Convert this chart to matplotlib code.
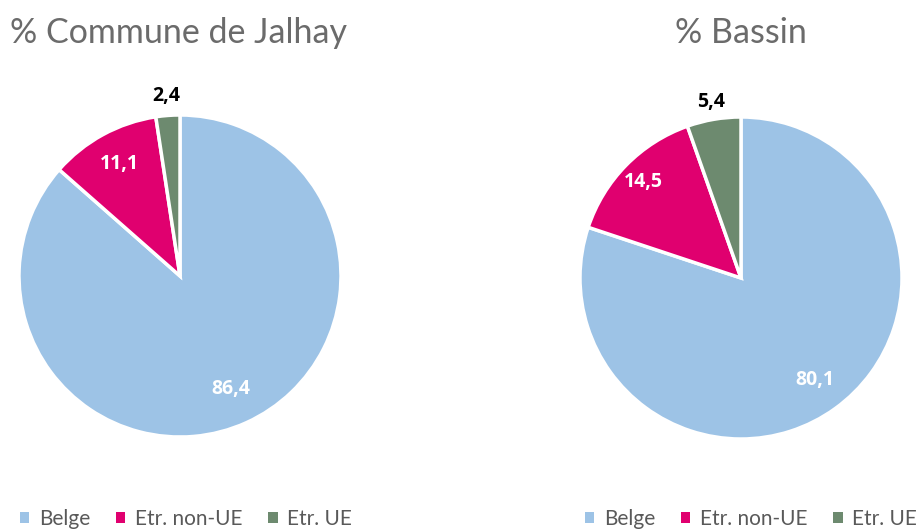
import matplotlib
matplotlib.use("Agg")
import matplotlib.pyplot as plt
from matplotlib.patches import Patch
import numpy as np

plt.rcParams['font.family'] = ['Lato', 'DejaVu Sans']

categories = ['Belge', 'Etr. non-UE', 'Etr. UE']
jalhay = [86.4, 11.1, 2.4]
bassin = [80.1, 14.5, 5.4]
titles = ['% Commune de Jalhay', '% Bassin']
colors = ['#9DC3E6', '#E0006F', '#6D8A6F']
label_colors = ['white', 'white', 'black']
grey = '#595959'

W, H = 916, 529
fig = plt.figure(figsize=(W / 100, H / 100), dpi=100)


def pie_axes(cx, cy, r):
    # pixel centre/radius -> figure fraction box
    return fig.add_axes([(cx - r) / W, (H - cy - r) / H, 2 * r / W, 2 * r / H])


def draw(ax, values, dists):
    wedges, _ = ax.pie(values, colors=colors, startangle=90, counterclock=False,
                       radius=1, wedgeprops=dict(edgecolor='white', linewidth=2.5))
    for w, v, d, c in zip(wedges, values, dists, label_colors):
        ang = np.deg2rad((w.theta1 + w.theta2) / 2)
        ax.text(d * np.cos(ang), d * np.sin(ang), f'{v:.1f}'.replace('.', ','),
                ha='center', va='center', color=c, fontsize=14, fontweight='bold',
                family=['Open Sans', 'DejaVu Sans'])
    ax.set_xlim(-1, 1)
    ax.set_ylim(-1, 1)
    ax.set_aspect('equal')
    ax.axis('off')


ax1 = pie_axes(180, 276, 161)
draw(ax1, jalhay, [0.77, 0.79, 1.12])
ax2 = pie_axes(741, 278, 161)
draw(ax2, bassin, [0.78, 0.85, 1.11])

fig.text(10 / W, 1 - 33 / H, titles[0], ha='left', va='center', color='#6b6b6b', fontsize=24.5)
fig.text(741 / W, 1 - 33 / H, titles[1], ha='center', va='center', color='#6b6b6b', fontsize=24.5)

handles = [Patch(facecolor=c, edgecolor='none') for c in colors]
for x in (186, 751):
    fig.legend(handles, categories, loc='center', bbox_to_anchor=(x / W, 1 - 519 / H),
               ncol=3, frameon=False, fontsize=15, labelcolor=grey,
               handlelength=0.45, handleheight=0.45, handletextpad=0.45, columnspacing=1.25)

fig.savefig('out.png', dpi=100)
